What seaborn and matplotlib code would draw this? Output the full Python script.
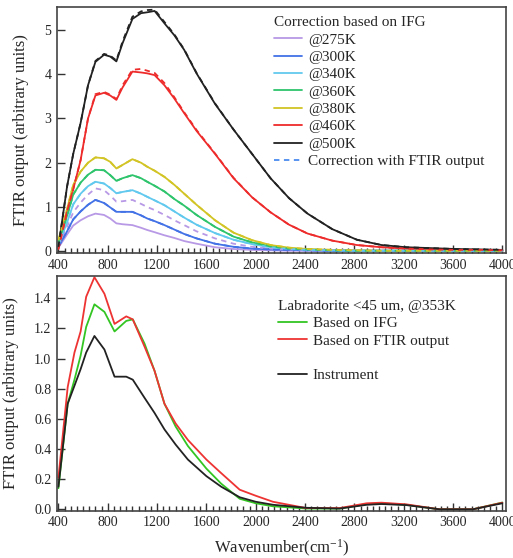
import numpy as np
import pandas as pd
import matplotlib
matplotlib.use('Agg')
import matplotlib.pyplot as plt
from matplotlib.lines import Line2D
from matplotlib.ticker import MultipleLocator, FormatStrFormatter
import seaborn as sns

# top panel: temperature series
wn_top = [400, 470, 520, 580, 640, 700, 770, 820, 870, 920, 1000, 1070, 1120, 1180,
          1260, 1340, 1420, 1520, 1670, 1820, 1970, 2120, 2270, 2420, 2620, 2820,
          3020, 3220, 3420, 3620, 3820, 4000]
k275 = [0.08, 0.38, 0.58, 0.70, 0.79, 0.85, 0.82, 0.74, 0.63, 0.61, 0.59, 0.53, 0.48, 0.43,
        0.36, 0.30, 0.23, 0.17, 0.09, 0.05, 0.03, 0.02, 0.01, 0.01, 0.01, 0.01,
        0.01, 0.01, 0.01, 0.01, 0.01, 0.01]
k275_ftir = [0.13, 0.55, 0.88, 1.10, 1.28, 1.42, 1.38, 1.26, 1.12, 1.13, 1.16, 1.07, 1.00, 0.93,
             0.82, 0.70, 0.59, 0.45, 0.29, 0.17, 0.10, 0.06, 0.04, 0.03, 0.02, 0.01,
             0.01, 0.01, 0.01, 0.01, 0.01, 0.01]
k300 = [0.10, 0.45, 0.72, 0.90, 1.05, 1.16, 1.09, 0.99, 0.89, 0.89, 0.89, 0.81, 0.74, 0.68,
        0.59, 0.49, 0.39, 0.29, 0.17, 0.10, 0.06, 0.04, 0.03, 0.02, 0.01, 0.01,
        0.01, 0.01, 0.01, 0.01, 0.01, 0.01]
k340 = [0.15, 0.65, 1.06, 1.30, 1.47, 1.57, 1.53, 1.43, 1.31, 1.34, 1.38, 1.30, 1.23, 1.15,
        1.04, 0.90, 0.76, 0.60, 0.41, 0.26, 0.16, 0.09, 0.05, 0.03, 0.02, 0.01,
        0.01, 0.01, 0.01, 0.01, 0.01, 0.01]
k360 = [0.20, 0.80, 1.28, 1.55, 1.73, 1.84, 1.83, 1.72, 1.59, 1.65, 1.72, 1.65, 1.57, 1.48,
        1.35, 1.18, 1.03, 0.82, 0.55, 0.33, 0.20, 0.11, 0.06, 0.04, 0.02, 0.01,
        0.01, 0.01, 0.01, 0.01, 0.01, 0.01]
k380 = [0.25, 0.95, 1.50, 1.80, 2.00, 2.12, 2.10, 2.02, 1.87, 1.95, 2.08, 2.00, 1.91, 1.82,
        1.68, 1.50, 1.30, 1.05, 0.70, 0.42, 0.25, 0.14, 0.08, 0.05, 0.03, 0.02,
        0.01, 0.01, 0.01, 0.01, 0.01, 0.01]
k460 = [0.05, 0.90, 1.40, 2.06, 3.00, 3.52, 3.58, 3.52, 3.42, 3.70, 4.06, 4.04, 4.02, 3.98,
        3.75, 3.45, 3.12, 2.72, 2.20, 1.65, 1.22, 0.88, 0.60, 0.40, 0.24, 0.14,
        0.09, 0.06, 0.04, 0.03, 0.03, 0.02]
k460_ftir = [0.05, 0.90, 1.40, 2.06, 3.00, 3.55, 3.60, 3.54, 3.44, 3.75, 4.10, 4.12, 4.08, 4.03,
             3.80, 3.48, 3.14, 2.74, 2.21, 1.66, 1.22, 0.88, 0.60, 0.40, 0.24, 0.14,
             0.09, 0.06, 0.04, 0.03, 0.03, 0.02]
k500 = [0.10, 1.46, 2.20, 2.90, 3.75, 4.28, 4.44, 4.40, 4.29, 4.70, 5.25, 5.38, 5.40, 5.43,
        5.15, 4.88, 4.55, 4.02, 3.33, 2.75, 2.20, 1.65, 1.20, 0.85, 0.50, 0.26,
        0.14, 0.09, 0.07, 0.05, 0.04, 0.03]
k500_ftir = [0.10, 1.46, 2.20, 2.90, 3.75, 4.30, 4.46, 4.42, 4.31, 4.74, 5.30, 5.42, 5.45, 5.46,
             5.18, 4.90, 4.56, 4.03, 3.34, 2.75, 2.20, 1.65, 1.20, 0.85, 0.50, 0.26,
             0.14, 0.09, 0.07, 0.05, 0.04, 0.03]

temps = ['@275K', '@300K', '@340K', '@360K', '@380K', '@460K', '@500K']
colors = ['#b899e6', '#4372e6', '#62c9ee', '#2ec46c', '#d2c424', '#ee2b2b', '#222222']

# bottom panel: Labradorite <45 um at 353K
wn_bot = [400, 475, 530, 580, 625, 692, 773, 855, 950, 1003, 1098, 1179, 1260, 1350,
          1450, 1600, 1720, 1870, 2000, 2140, 2410, 2680, 2900, 3020, 3220, 3490,
          3760, 4000]
ifg = [0.14, 0.70, 0.86, 1.02, 1.21, 1.36, 1.31, 1.18, 1.25, 1.26, 1.10, 0.92, 0.70, 0.55,
       0.42, 0.27, 0.17, 0.07, 0.04, 0.02, 0.005, 0.005, 0.035, 0.04, 0.03, 0.0,
       0.0, 0.045]
ftir = [0.21, 0.81, 1.04, 1.18, 1.41, 1.54, 1.43, 1.23, 1.28, 1.26, 1.08, 0.92, 0.70, 0.57,
        0.46, 0.33, 0.24, 0.13, 0.09, 0.05, 0.008, 0.008, 0.04, 0.044, 0.033, 0.0,
        0.0, 0.044]
instrument = [0.15, 0.70, 0.82, 0.93, 1.04, 1.15, 1.06, 0.88, 0.88, 0.86, 0.74, 0.64, 0.53, 0.43,
              0.33, 0.22, 0.15, 0.08, 0.05, 0.03, 0.01, 0.005, 0.03, 0.035, 0.028, 0.0,
              0.0, 0.04]

sns.set_theme(style='white')
plt.rcParams['font.family'] = ['Liberation Serif', 'DejaVu Serif']
plt.rcParams['mathtext.fontset'] = 'custom'
plt.rcParams['mathtext.rm'] = 'Liberation Serif'
plt.rcParams['mathtext.it'] = 'Liberation Serif:italic'

fig = plt.figure(figsize=(5.13, 5.58), dpi=100)
ax1 = fig.add_axes([0.111, 0.5466, 0.875, 0.4409])
ax2 = fig.add_axes([0.111, 0.0851, 0.875, 0.4203])

series = [k275, k300, k340, k360, k380, k460, k500]
for vals, lab, col in zip(series, temps, colors):
    sns.lineplot(x=wn_top, y=vals, ax=ax1, color=col, lw=1.3, label=lab)

# FTIR-output corrections (dashed)
dashed = [k275_ftir, k300, k340, k360, k380, k460_ftir, k500_ftir]
for vals, col in zip(dashed, colors):
    sns.lineplot(x=wn_top, y=vals, ax=ax1, color=col, lw=1.3, linestyle=(0, (3, 2.5)))

handles = [Line2D([], [], color=c, lw=1.3) for c in colors]
handles.append(Line2D([], [], color='#4a8cf0', lw=1.3, linestyle=(0, (3, 2.5))))
labels = temps + ['Correction with FTIR output']
leg1 = ax1.legend(handles, labels, title='Correction based on IFG', loc='upper left',
                  bbox_to_anchor=(0.483, 0.962), frameon=False, fontsize=11,
                  title_fontsize=11, labelspacing=0.24, handlelength=1.85,
                  handletextpad=0.4, borderaxespad=0, borderpad=0)
leg1._legend_box.align = 'left'

sns.lineplot(x=wn_bot, y=ifg, ax=ax2, color='#33c522', lw=1.3)
sns.lineplot(x=wn_bot, y=ftir, ax=ax2, color='#ee3333', lw=1.3)
sns.lineplot(x=wn_bot, y=instrument, ax=ax2, color='#222222', lw=1.3)
h2 = [Line2D([], [], color='#33c522', lw=1.3), Line2D([], [], color='#ee3333', lw=1.3),
      Line2D([], [], color='none'), Line2D([], [], color='#222222', lw=1.3)]
leg2 = ax2.legend(h2, ['Based on IFG', 'Based on FTIR output', ' ', 'Instrument'],
                  title='Labradorite <45 um, @353K', loc='upper left',
                  bbox_to_anchor=(0.493, 0.898), frameon=False, fontsize=11,
                  title_fontsize=11, labelspacing=0.24, handlelength=1.85,
                  handletextpad=0.4, borderaxespad=0, borderpad=0)
leg2._legend_box.align = 'left'

ax1.set_ylim(-0.04, 5.52)
ax2.set_ylim(-0.008, 1.548)
ax2.yaxis.set_major_locator(MultipleLocator(0.2))
ax2.yaxis.set_major_formatter(FormatStrFormatter('%.1f'))
ax1.yaxis.set_major_locator(MultipleLocator(1))

for ax in (ax1, ax2):
    ax.set_xlim(388, 4028)
    ax.xaxis.set_major_locator(MultipleLocator(400))
    ax.xaxis.set_minor_locator(MultipleLocator(50))
    ax.tick_params(axis='both', which='major', direction='in', length=6, width=1,
                   color='#333333', labelsize=10, pad=4, bottom=True, left=True)
    ax.tick_params(axis='x', which='minor', direction='in', length=3.5, width=1,
                   color='#333333', bottom=True)
    for s in ax.spines.values():
        s.set_color('#444444')
        s.set_linewidth(1.2)
    ax.set_ylabel('FTIR output (arbitrary units)', fontsize=12, labelpad=11)
    ax.set_xlabel('')

ax2.set_xlabel('Wavenumber(cm$^{-1}$)', fontsize=12, labelpad=6)

fig.savefig('out.png', dpi=100)
